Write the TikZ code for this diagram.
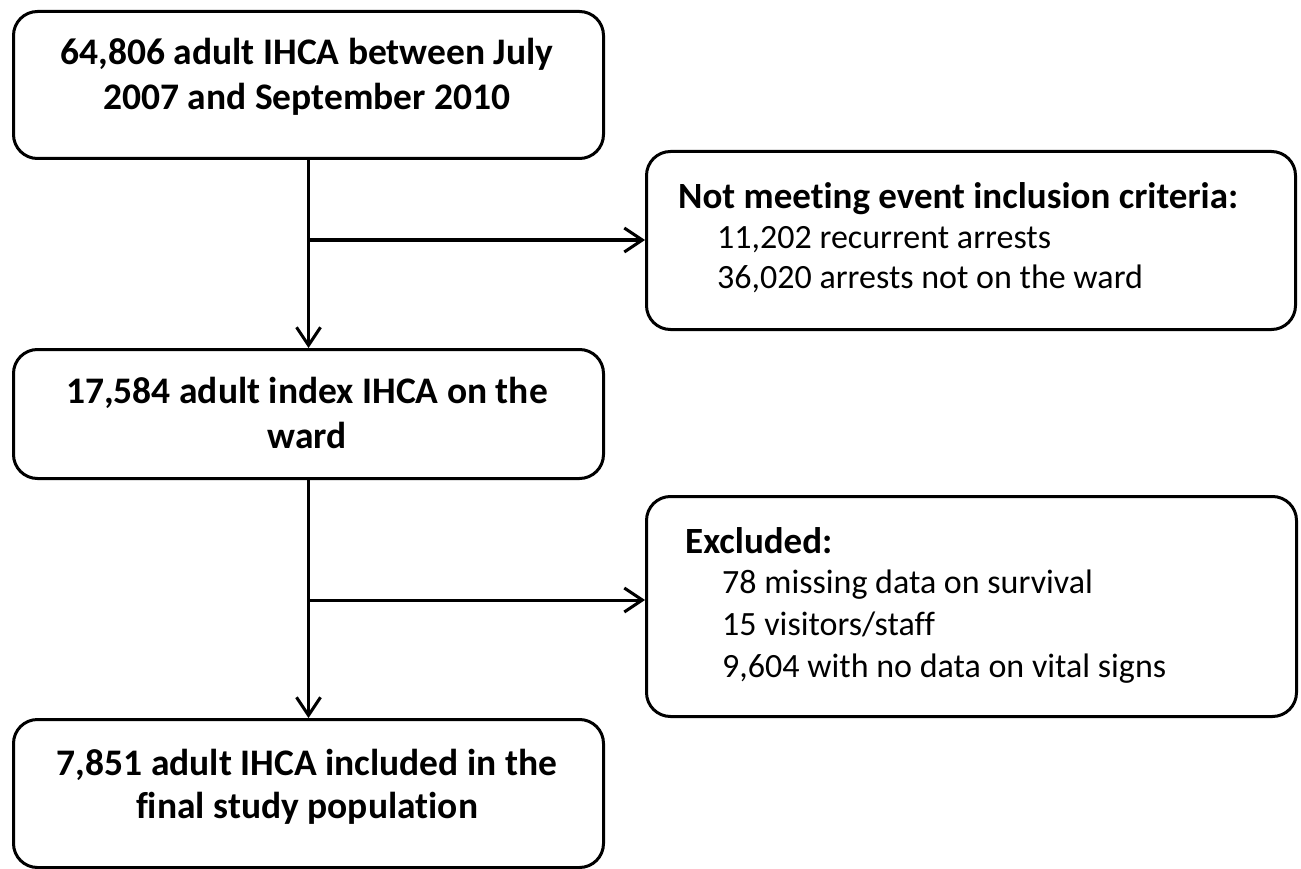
\documentclass[tikz,border=0pt]{standalone}
\usepackage{fontspec}
\setmainfont{Carlito}[Ligatures=NoCommon]
\usetikzlibrary{arrows.meta}
\begin{document}
\begin{tikzpicture}[x=1pt,y=-1pt,
  box/.style={draw=black,line width=3pt,rounded corners=24pt,anchor=north west,inner sep=0pt},
  big/.style={font=\fontsize{37.5}{44}\selectfont\bfseries,anchor=base,inner sep=0pt},
  head/.style={font=\fontsize{37}{44}\selectfont\bfseries,anchor=base west,inner sep=0pt},
  item/.style={font=\fontsize{34}{40}\selectfont,anchor=base west,inner sep=0pt},
  conn/.style={line width=3pt,-{Straight Barb[length=18pt,width=24pt,line width=3pt]}}]
\useasboundingbox (0,0) rectangle (1301,869);
\fill[white] (0,0) rectangle (1301,869);
% boxes
\node[box,minimum width=590pt,minimum height=147pt] (b1) at (12,10) {};
\node[box,minimum width=649pt,minimum height=178pt] (b2) at (645,150) {};
\node[box,minimum width=590pt,minimum height=129pt] (b3) at (12,348) {};
\node[box,minimum width=650pt,minimum height=220pt] (b4) at (645,495) {};
\node[box,minimum width=590pt,minimum height=148pt] (b5) at (12,718) {};
% texts
\node[big] (t1a) at (307,65) {64,806 adult IHCA between July};
\node[big] (t1b) at (307,110) {2007 and September 2010};
\node[head] (t2a) at (678,208) {Not meeting event inclusion criteria:};
\node[item] (t2b) at (717,248) {11,202 recurrent arrests};
\node[item] (t2c) at (717,288) {36,020 arrests not on the ward};
\node[big] (t3a) at (307,403) {17,584 adult index IHCA on the};
\node[big] (t3b) at (307,448) {ward};
\node[head] (t4a) at (685,553) {Excluded:};
\node[item] (t4b) at (722,593) {78 missing data on survival};
\node[item] (t4c) at (722,635) {15 visitors/staff};
\node[item] (t4d) at (722,677) {9,604 with no data on vital signs};
\node[big] (t5a) at (307,775) {7,851 adult IHCA included in the};
\node[big] (t5b) at (307,818) {final study population};
% connectors
\coordinate (j1) at (307,240);
\coordinate (j2) at (307,600);
\draw[conn] (b1.south) -- (b3.north);
\draw[conn] (j1) -- (b2.west |- j1);
\draw[conn] (b3.south) -- (b5.north);
\draw[conn] (j2) -- (b4.west |- j2);
\end{tikzpicture}
\end{document}
